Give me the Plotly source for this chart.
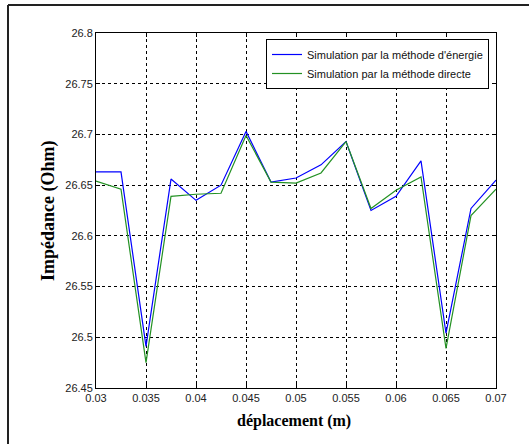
import plotly.graph_objects as go

# Déplacement (m) et impédance (Ohm) pour les deux méthodes de simulation
deplacement = [0.03, 0.0325, 0.035, 0.0375, 0.04, 0.0425, 0.045, 0.0475, 0.05,
               0.0525, 0.055, 0.0575, 0.06, 0.0625, 0.065, 0.0675, 0.07]
z_energie = [26.663, 26.663, 26.491, 26.656, 26.635, 26.650, 26.703, 26.653, 26.657,
             26.670, 26.693, 26.625, 26.639, 26.674, 26.504, 26.627, 26.655]
z_directe = [26.654, 26.646, 26.475, 26.639, 26.641, 26.642, 26.699, 26.653, 26.652,
             26.662, 26.693, 26.627, 26.645, 26.658, 26.489, 26.620, 26.646]

nom_energie = "Simulation par la méthode d'énergie"
nom_directe = "Simulation par la méthode directe"
titre_x = "<b>déplacement (m)</b>"
titre_y = "<b>Impédance (Ohm)</b>"

W, H = 529, 444
ML, MR, MT, MB = 96, 33, 33, 56
PW, PH = W - ML - MR, H - MT - MB

fig = go.Figure()
fig.add_trace(go.Scatter(x=deplacement, y=z_energie, mode="lines", name=nom_energie,
                         line=dict(color="#0000ff", width=1.2)))
fig.add_trace(go.Scatter(x=deplacement, y=z_directe, mode="lines", name=nom_directe,
                         line=dict(color="#239123", width=1.2)))

axis_common = dict(
    showline=True, linecolor="black", linewidth=1, mirror="allticks",
    ticks="inside", ticklen=4, tickcolor="black",
    showgrid=True, gridcolor="black", gridwidth=1, griddash="3px,3px",
    zeroline=False,
    tickfont=dict(family="Liberation Sans, Arial, sans-serif", size=11, color="#222"),
)

fig.update_xaxes(range=[0.03, 0.07], dtick=0.005, tick0=0.03, **axis_common)
fig.update_yaxes(range=[26.45, 26.8], dtick=0.05, tick0=26.45, **axis_common)

serif = "Liberation Serif, Times New Roman, serif"
fig.add_annotation(text=titre_x, xref="paper", yref="paper",
                   x=(294 - ML) / PW, y=-(421 - MT - PH) / PH,
                   showarrow=False, xanchor="center", yanchor="middle",
                   font=dict(family=serif, size=16, color="black"))
fig.add_annotation(text=titre_y, xref="paper", yref="paper",
                   x=(48 - ML) / PW, y=1 - (211 - MT) / PH, textangle=-90,
                   showarrow=False, xanchor="center", yanchor="middle",
                   font=dict(family=serif, size=18, color="black"))

# Cadre extérieur (traits haut et gauche)
fx = (8 - ML) / PW
fy = 1 + (MT - 5) / PH
fig.add_shape(type="line", xref="paper", yref="paper", x0=fx, x1=(W - ML) / PW + 0.01,
              y0=fy, y1=fy, line=dict(color="#222", width=2))
fig.add_shape(type="line", xref="paper", yref="paper", x0=fx, x1=fx,
              y0=fy, y1=-(MB + 5) / PH, line=dict(color="#222", width=2))

fig.update_layout(
    width=W, height=H,
    margin=dict(l=ML, r=MR, t=MT, b=MB),
    paper_bgcolor="white", plot_bgcolor="white",
    showlegend=True,
    legend=dict(x=(489 - ML) / PW, y=1 - (39 - MT) / PH, xanchor="right", yanchor="top",
                bgcolor="white", bordercolor="black", borderwidth=1,
                font=dict(family="Liberation Sans, Arial, sans-serif", size=11, color="#111"),
                tracegroupgap=0),
)

fig.write_html("out.html")
